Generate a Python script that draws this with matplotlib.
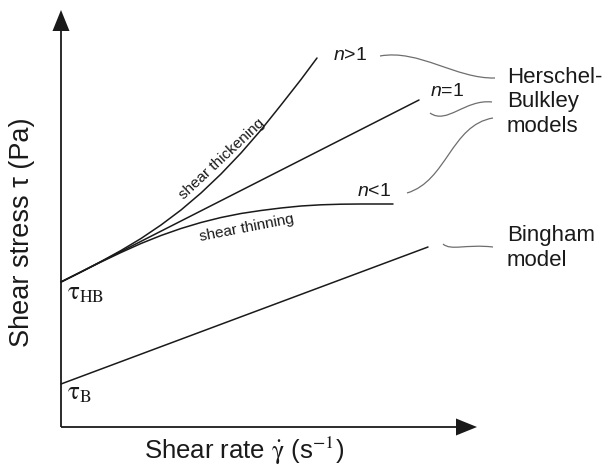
import matplotlib.pyplot as plt
from matplotlib.path import Path
from matplotlib.patches import PathPatch, Polygon

# flow curves, shear rate vs shear stress (arbitrary units)
rate_thick = [0, 20, 40, 60, 80, 100, 120, 140, 160, 180, 200, 220, 240, 256]
stress_thick = [145, 155, 165.5, 176.5, 188.5, 202, 217, 234, 253, 274, 297, 322, 347.5, 369]

rate_newton = [0, 358]
stress_newton = [145, 327]

rate_thin = [0, 20, 40, 60, 80, 100, 120, 140, 160, 180, 200, 220, 240, 260, 280, 300, 332]
stress_thin = [145, 155, 165, 174.5, 183.5, 191.5, 198.5, 204.5, 209.5, 213.5, 216.5, 219,
               221, 222.2, 222.8, 223, 223]

rate_bingham = [0, 367]
stress_bingham = [43, 180]

n_labels = ['$n$>1', '$n$=1', '$n$<1']

# callout curves (start, ctrl, ctrl, end) linking the curves to the model names
callouts = [
    [(319, 371), (358, 378), (395, 348), (434, 349)],
    [(369, 314), (386, 302), (404, 328), (431, 325)],
    [(346, 234), (386, 246), (390, 302), (432, 309)],
    [(382, 183), (390, 176), (405, 183), (432, 180)],
]

ink = '#1a1a1a'
grey = '#6e6e6e'

plt.rcParams['font.family'] = ['Liberation Sans', 'DejaVu Sans']
plt.rcParams['mathtext.fontset'] = 'custom'
plt.rcParams['mathtext.it'] = 'Liberation Sans:italic'
plt.rcParams['mathtext.rm'] = 'Liberation Sans'

fig = plt.figure(figsize=(6.08, 4.70), dpi=100)
ax = fig.add_axes([0, 0, 1, 1])
ax.set_xlim(-61, 547)
ax.set_ylim(-43, 427)
ax.axis('off')

# axes with arrow heads
x_end, y_end = 416, 417
head_len, head_half = 21, 8.5
ax.plot([0, x_end - head_len], [0, 0], color=ink, lw=1.3, solid_capstyle='butt')
ax.plot([0, 0], [0, y_end - head_len], color=ink, lw=1.3, solid_capstyle='butt')
ax.add_patch(Polygon([[x_end - head_len, head_half], [x_end, 0],
                      [x_end - head_len, -head_half]], closed=True, color=ink, lw=0))
ax.add_patch(Polygon([[-head_half, y_end - head_len], [0, y_end],
                      [head_half, y_end - head_len]], closed=True, color=ink, lw=0))

# the four flow curves
for x, y in [(rate_thick, stress_thick), (rate_newton, stress_newton),
             (rate_thin, stress_thin), (rate_bingham, stress_bingham)]:
    ax.plot(x, y, color=ink, lw=1.1, solid_capstyle='round')

for pts in callouts:
    path = Path(pts, [Path.MOVETO, Path.CURVE4, Path.CURVE4, Path.CURVE4])
    ax.add_patch(PathPatch(path, facecolor='none', edgecolor=grey, lw=0.9))

# labels on the curves
ax.text(272, 372, n_labels[0], fontsize=14, color=ink, ha='left', va='center')
ax.text(369, 335, n_labels[1], fontsize=14, color=ink, ha='left', va='center')
ax.text(296, 235, n_labels[2], fontsize=14, color=ink, ha='left', va='center')

ax.text(161, 268, 'shear thickening', fontsize=11, color=ink, rotation=43,
        ha='center', va='center', rotation_mode='anchor')
ax.text(186, 199, 'shear thinning', fontsize=11, color=ink, rotation=11,
        ha='center', va='center', rotation_mode='anchor')

ax.text(446, 325, 'Herschel-\nBulkley\nmodels', fontsize=16, color=ink,
        ha='left', va='center', linespacing=1.2)
ax.text(446, 179, 'Bingham\nmodel', fontsize=16, color=ink,
        ha='left', va='center', linespacing=1.2)

ax.text(6, 127, r'$\mathrm{\tau}_{\mathrm{HB}}$', fontsize=18, color=ink,
        math_fontfamily='stix', ha='left', va='baseline')
ax.text(6, 27, r'$\mathrm{\tau}_{\mathrm{B}}$', fontsize=18, color=ink,
        math_fontfamily='stix', ha='left', va='baseline')

# axis titles
ax.text(-39, 195, 'Shear stress τ (Pa)', fontsize=19.5, color=ink, rotation=90,
        ha='center', va='center')
ax.text(183, -24, r'Shear rate $\dot{\mathrm{\gamma}}$ (s$^{-1}$)', fontsize=18.5, color=ink,
        math_fontfamily='stix', ha='center', va='center')

fig.savefig('out.png', dpi=100)
